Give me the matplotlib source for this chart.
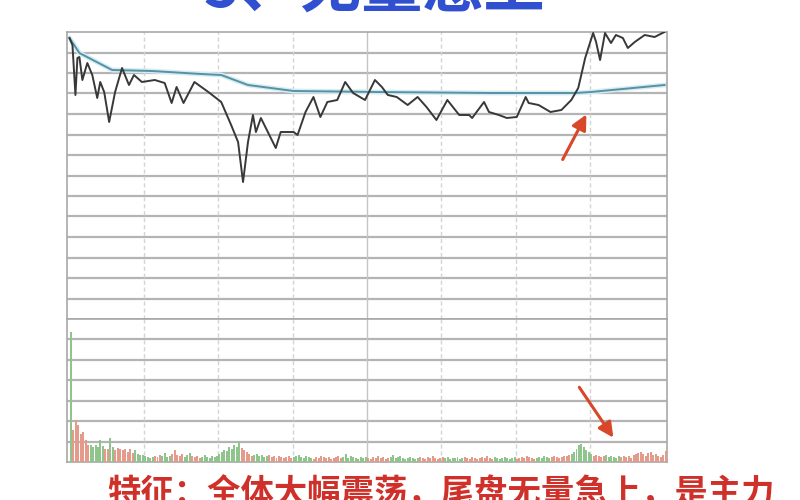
import numpy as np
import matplotlib
matplotlib.use('Agg')
import matplotlib.pyplot as plt

plt.rcParams['font.family'] = ['Noto Sans CJK SC', 'DejaVu Sans']

# 分时价格（关键点：分钟, 价格）
price_min = [0, 1.2, 2.4, 3.2, 4, 5.2, 7.2, 9.2, 11.2, 12.4, 14, 16, 18.4, 21.2, 24, 26,
             29.2, 34.4, 38.4, 41.2, 43.2, 46, 50.4, 56, 61.2, 65.2, 68, 70, 72, 74, 75.2,
             77.2, 80, 83.2, 85.2, 90.4, 92, 95.2, 98.4, 101.2, 104, 108, 111.2, 114.4,
             119.2, 123.2, 126, 128.4, 132, 136.4, 140.4, 144, 148, 152.4, 157.2, 161.2,
             162.4, 167.2, 169.2, 173.2, 176.4, 180.4, 184, 185.2, 189.2, 194, 198.4,
             202.4, 205.2, 208, 211.2, 212.4, 214, 216, 218.4, 220.4, 223.2, 225.2, 228,
             232, 236, 240]
price_val = [30.0, 29.3, 24.3, 28.0, 28.1, 25.8, 27.5, 26.3, 24.0, 25.6, 24.6, 21.6, 24.6,
             27.0, 25.3, 26.3, 25.6, 25.8, 25.5, 23.5, 25.1, 23.5, 25.6, 24.6, 23.6, 21.3,
             19.6, 15.6, 19.6, 22.3, 20.6, 22.0, 20.6, 19.0, 20.6, 20.6, 20.3, 22.6, 24.1,
             22.1, 23.6, 23.8, 25.6, 24.5, 23.8, 25.8, 25.1, 24.3, 24.1, 23.3, 24.1, 23.1,
             21.8, 23.8, 22.3, 22.3, 22.0, 23.6, 22.6, 22.3, 22.0, 22.1, 24.1, 23.5, 23.3,
             22.6, 22.8, 23.8, 25.0, 28.0, 30.5, 29.6, 27.8, 30.5, 29.5, 30.3, 30.0, 29.0,
             29.6, 30.3, 30.1, 30.6]

# 均价线
avg_min = [0, 4, 17.2, 33.2, 53.2, 61.2, 72, 81.2, 90.4, 124, 170.4, 204, 210.4, 240]
avg_val = [30.0, 28.5, 26.8, 26.7, 26.4, 26.3, 25.3, 25.0, 24.7, 24.6, 24.5, 24.5, 24.6, 25.3]

# 成交量（每分钟）
volume = [130, 32, 42, 37, 28, 30, 22, 17, 17, 15, 17, 15, 22, 16, 13, 13, 24, 15, 12, 14,
          13, 12, 13, 10, 13, 9, 12, 8, 7, 7,
          6, 5, 4, 5, 6, 5, 7, 6, 9, 5, 6, 8, 12, 7, 6, 8, 5, 7, 9, 6,
          5, 6, 4, 5, 7, 5, 4, 6, 5, 6,
          8, 10, 12, 11, 15, 13, 17, 15, 21, 14, 12, 10, 8, 6, 7, 8, 6, 7, 5, 6,
          7, 5, 6, 4, 6, 5, 4, 5, 6, 4, 5, 6, 7, 5, 4, 6, 5, 4, 3, 5,
          4, 6, 5, 4, 5, 3, 4, 5, 6, 4, 5, 8, 4, 6, 5, 4, 3, 5, 4, 5,
          4, 3, 5, 4, 6, 4, 5, 3, 4, 5, 7, 4, 5, 6, 4, 3, 4, 5, 4, 3,
          4, 5, 4, 3, 5, 4, 6, 4, 3, 4, 5, 4, 5, 3, 4, 4, 5, 3, 4, 5,
          4, 3, 5, 4, 3, 4, 5, 4, 6, 4, 3, 5, 4, 3, 4, 5, 4, 3, 4, 5,
          3, 4, 5, 4, 6, 5, 4, 3, 4, 5, 4, 6, 5, 4, 5, 6, 5, 4, 5, 6,
          6, 7, 8, 10, 13, 17, 18, 15, 12, 10, 8, 6, 7, 6, 5, 6, 7, 5, 6, 5,
          4, 6, 5, 6, 5, 6, 4, 7, 8, 9, 10, 8, 6, 9, 10, 7, 8, 6, 5, 7, 11]

# 涨跌颜色分段（根数, 颜色）
vol_runs = [(1, 'g'), (7, 'r'), (6, 'g'), (2, 'r'), (2, 'g'), (8, 'r'), (8, 'g'), (3, 'r'),
            (4, 'g'), (5, 'r'), (3, 'g'), (4, 'r'), (7, 'g'), (9, 'g'), (5, 'r'), (6, 'g'),
            (10, 'r'), (8, 'g'), (12, 'r'), (10, 'g'), (9, 'r'), (12, 'g'), (10, 'r'),
            (8, 'g'), (12, 'r'), (9, 'g'), (8, 'r'), (6, 'g'), (8, 'r'), (9, 'g'), (5, 'r'),
            (6, 'g'), (4, 'r')]

title_text = '5、无量急上'
note_text = '特征：全体大幅震荡，尾盘无量急上，是主力'

colors = []
for n, c in vol_runs:
    colors += [c] * n
colors = (colors + ['r'] * 241)[:len(volume)]
bar_colors = ['#e59b8c' if c == 'r' else '#8fc48c' for c in colors]

fig = plt.figure(figsize=(8, 5), dpi=100)
ax = fig.add_axes([67 / 800, 1 - 319 / 500, 600 / 800, 287 / 500])
ax_v = fig.add_axes([67 / 800, 1 - 462 / 500, 600 / 800, 143 / 500])

for a, lo, hi, rows in [(ax, 1.9, 30.6, 14), (ax_v, 0, 143, 7)]:
    a.set_xlim(-1, 241)
    a.set_ylim(lo, hi)
    for yv in np.linspace(lo, hi, rows + 1)[1:-1]:
        a.axhline(yv, color='#b4b4b4', lw=1.6, zorder=0)
    for xv in range(30, 240, 30):
        if xv == 120:
            a.axvline(xv, color='#c4c4c4', lw=1.0, zorder=0)
        else:
            a.axvline(xv, color='#d4d4d4', lw=1.0, ls=(0, (3, 2)), zorder=0)
    a.set_xticks([])
    a.set_yticks([])
    for s in a.spines.values():
        s.set_color('#a8a8a8')
        s.set_linewidth(1.2)

ax.plot(avg_min, avg_val, color='#d3edf4', lw=3.5, zorder=2)
ax.plot(avg_min, avg_val, color='#5a90a2', lw=1.4, zorder=3)
ax.plot(price_min, price_val, color='#383838', lw=1.4, zorder=4)

ax_v.bar(np.arange(len(volume)) + 0.5, volume, width=0.8, color=bar_colors, zorder=3)

# 红色箭头
ax.annotate('', xy=(209, 22.6), xytext=(198.4, 17.6),
            arrowprops=dict(arrowstyle='-|>,head_length=0.9,head_width=0.45',
                            color='#d9472b', lw=2.2))
ax_v.annotate('', xy=(220, 22), xytext=(205, 77),
              arrowprops=dict(arrowstyle='-|>,head_length=0.9,head_width=0.45',
                              color='#d9472b', lw=2.2))

fig.text(0.468, 1.022, title_text, ha='center', va='center', fontsize=44,
         fontweight='bold', color='#3050d0')
fig.text(0.551, 0.012, note_text, ha='center', va='center', fontsize=24,
         fontweight='bold', color='#d0302a')

fig.savefig('out.png', dpi=100)
